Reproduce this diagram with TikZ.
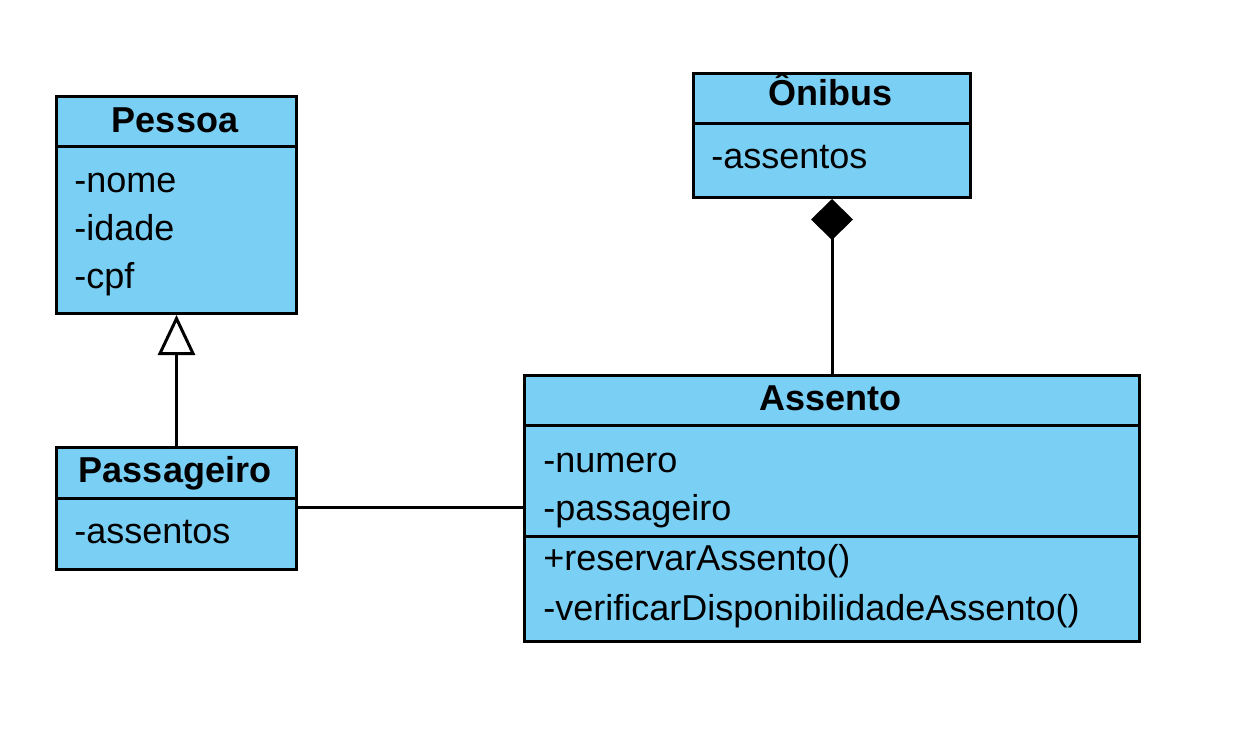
\documentclass[tikz,border=0pt]{standalone}
\usepackage{fontspec}
\setmainfont{Liberation Sans}
\usetikzlibrary{arrows.meta, positioning}
\definecolor{classblue}{RGB}{122,207,244}
\tikzset{
  part/.style={draw, fill=classblue, line width=1.5pt, inner sep=0pt, anchor=north west},
  classname/.style={font=\bfseries\fontsize{18}{20}\selectfont, anchor=base, inner sep=0pt},
  member/.style={font=\fontsize{18}{20}\selectfont, anchor=base west, inner sep=0pt},
  link/.style={line width=1.5pt, line join=miter}
}

\begin{document}
\begin{tikzpicture}[x=0.5pt, y=-0.5pt]
  \useasboundingbox (0,0) rectangle (1253,734);
  % Pessoa
  \node[part, minimum width=120pt, minimum height=25pt] (pessoa) at (55,95) {};
  \node[part, minimum width=120pt, minimum height=83.5pt] (pessoaattr) at (55,145) {};
  \node[classname] (pessoaname) at (175,132) {Pessoa};
  \node[member] (nome) at (74,192) {-nome};
  \node[member] (idade) at (74,240) {-idade};
  \node[member] (cpf) at (74,288) {-cpf};
  % Passageiro
  \node[part, minimum width=120pt, minimum height=25.5pt] (passageiro) at (55,446) {};
  \node[part, minimum width=120pt, minimum height=35.5pt] (passageiroattr) at (55,497) {};
  \node[classname] (passageironame) at (175,482) {Passageiro};
  \node[member] (passageiroassentos) at (74,543) {-assentos};
  % Onibus
  \node[part, minimum width=138.5pt, minimum height=25pt] (onibus) at (692,72) {};
  \node[part, minimum width=138.5pt, minimum height=37pt] (onibusattr) at (692,122) {};
  \node[classname] (onibusname) at (830.5,105) {Ônibus};
  \node[member] (onibusassentos) at (711,168) {-assentos};
  % Assento
  \node[part, minimum width=307.5pt, minimum height=25pt] (assento) at (523,374) {};
  \node[part, minimum width=307.5pt, minimum height=55.5pt] (assentoattr) at (523,424) {};
  \node[part, minimum width=307.5pt, minimum height=52.5pt] (assentoops) at (523,535) {};
  \node[classname] (assentoname) at (830.5,410) {Assento};
  \node[member] (numero) at (543,472) {-numero};
  \node[member] (assentopassageiro) at (543,520) {-passageiro};
  \node[member] (reservar) at (543,570) {+reservarAssento()};
  \node[member] (verificar) at (543,620) {-verificarDisponibilidadeAssento()};
  % relations
  \draw[link, -{Triangle[open, length=20pt, width=18.5pt]}] (passageiro.north) -- (pessoaattr.south);
  \draw[link, {Diamond[length=20.5pt, width=21pt]}-] (onibusattr.south) -- (assento.north);
  \draw[link] ([yshift=-5pt]passageiroattr.north east) -- ([yshift=-5pt]passageiroattr.north east -| assentoattr.west);
\end{tikzpicture}
\end{document}
